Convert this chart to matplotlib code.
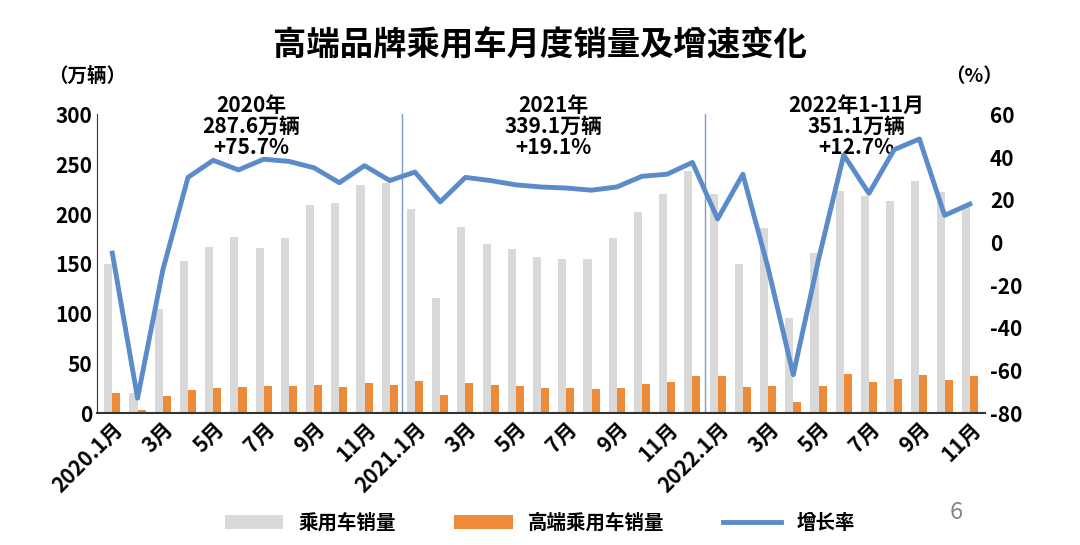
import numpy as np
import matplotlib.pyplot as plt
from matplotlib import font_manager

cjk = [f.name for f in font_manager.fontManager.ttflist if "CJK" in f.name]
cjk_name = "Noto Sans CJK SC" if "Noto Sans CJK SC" in cjk else (cjk[0] if cjk else "DejaVu Sans")
plt.rcParams["font.family"] = [cjk_name, "DejaVu Sans"]
plt.rcParams["axes.unicode_minus"] = False

months = ([f"2020.{m}月" if m == 1 else f"{m}月" for m in range(1, 13)]
          + [f"2021.{m}月" if m == 1 else f"{m}月" for m in range(1, 13)]
          + [f"2022.{m}月" if m == 1 else f"{m}月" for m in range(1, 12)])

total_sales = [150, 20, 105, 153, 167, 177, 166, 176, 209, 211, 229, 231,
               205, 116, 187, 170, 165, 157, 155, 155, 176, 202, 220, 243,
               220, 150, 186, 96, 161, 223, 218, 213, 233, 222, 207]
premium_sales = [20, 3, 17, 23, 25, 26, 27, 27.5, 28, 26, 30, 28,
                 32, 18, 30, 28, 27, 25, 25, 24, 25, 29, 31, 37,
                 37, 26, 27, 11, 27, 39, 31, 34, 38, 33, 37]
growth = [-5, -73, -13, 30.5, 38.5, 34, 39, 38, 35, 28, 36, 29,
          33, 19, 30.5, 29, 27, 26, 25.5, 24.5, 26, 31, 32, 37.5,
          11, 32, -12, -62, -8, 41, 23, 43.5, 48.5, 12.7, 18]

year_notes = ["2020年\n287.6万辆\n+75.7%", "2021年\n339.1万辆\n+19.1%",
              "2022年1-11月\n351.1万辆\n+12.7%"]

x = np.arange(len(months))
fig = plt.figure(figsize=(10.8, 5.45), dpi=100)
ax = fig.add_axes([0.09, 0.242, 0.822, 0.548])
ax2 = ax.twinx()

w = 0.32
ax.bar(x - w / 2, total_sales, w, color="#d9d9d9", label="乘用车销量")
ax.bar(x + w / 2, premium_sales, w, color="#ed8b3a", label="高端乘用车销量")
ax2.plot(x, growth, color="#5b8bc9", lw=3.5, label="增长率")

ax.set_xlim(-0.6, len(months) - 0.4)
ax.set_ylim(0, 300)
ax2.set_ylim(-80, 60)
ax.set_yticks(range(0, 301, 50))
ax2.set_yticks(range(-80, 61, 20))
ax.set_xticks(x[::2])
ax.set_xticklabels(months[::2], rotation=45, ha="right", rotation_mode="anchor")
for a in (ax, ax2):
    a.tick_params(length=0, labelsize=15)
    for lab in a.get_yticklabels() + a.get_xticklabels():
        lab.set_fontweight("bold")
    for s in ("top", "right", "left"):
        a.spines[s].set_visible(False)
ax.spines["left"].set_visible(True)
ax.spines["left"].set_color("#333333")
ax.spines["bottom"].set_color("#333333")
ax.spines["bottom"].set_linewidth(1.5)
ax2.spines["bottom"].set_visible(False)

for sep in (11.5, 23.5):
    ax.axvline(sep, color="#7f9cc8", lw=1)

for xc, note in zip([5.5, 17.5, 29.5], year_notes):
    ax.text(xc, 288, note, ha="center", va="center", fontsize=15,
            fontweight="bold", linespacing=1.0)

fig.text(0.5, 0.915, "高端品牌乘用车月度销量及增速变化", ha="center", va="center",
         fontsize=24, fontweight="bold")
fig.text(0.045, 0.86, "（万辆）", ha="left", va="center", fontsize=14, fontweight="bold")
fig.text(0.875, 0.86, "（%）", ha="left", va="center", fontsize=14, fontweight="bold")
fig.text(0.885, 0.06, "6", ha="center", va="center", fontsize=17, color="#888888")

h1, l1 = ax.get_legend_handles_labels()
h2, l2 = ax2.get_legend_handles_labels()
leg = fig.legend(h1 + h2, l1 + l2, loc="center", bbox_to_anchor=(0.5, 0.04),
                 ncol=3, frameon=False, fontsize=14, columnspacing=3, handlelength=3)
for t in leg.get_texts():
    t.set_fontweight("bold")

fig.savefig("out.png", dpi=100)
